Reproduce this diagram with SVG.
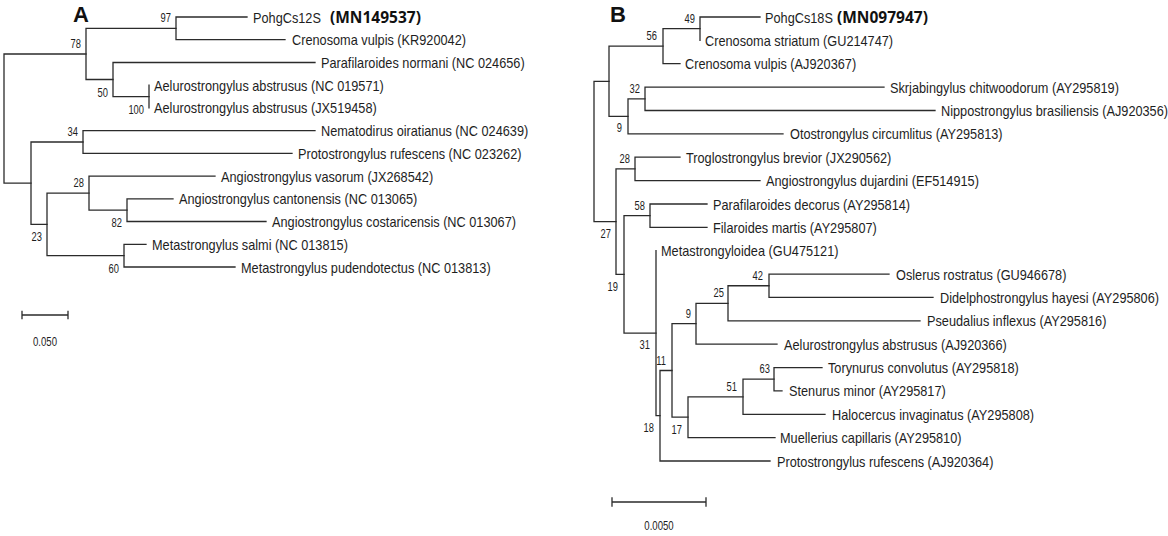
<svg xmlns="http://www.w3.org/2000/svg" width="1168" height="536" viewBox="0 0 1168 536">
<style>
.br{fill:none;stroke:#2b2b2b;stroke-width:1.3;stroke-linecap:square}
.t{font-family:"Liberation Sans",Arial,sans-serif;font-size:14.8px;fill:#1e1e1e}
.bd{font-family:"Open Sans","Liberation Sans",sans-serif;font-size:15.5px;font-weight:bold;fill:#111}
.b{font-family:"Liberation Sans",Arial,sans-serif;font-size:12px;fill:#1e1e1e;text-anchor:end}
.s{font-family:"Liberation Sans",Arial,sans-serif;font-size:12px;fill:#1e1e1e;text-anchor:middle}
.h{font-family:"Liberation Sans",Arial,sans-serif;font-size:22px;font-weight:bold;fill:#111}
</style>
<rect width="1168" height="536" fill="#fff"/>
<g id="connectors">
<!-- Tree A -->
<path class="br" d="M86,54 H4 V183.2 H31"/>
<path class="br" d="M176,28.4 H86 V79.5 H113"/>
<path class="br" d="M247,17 H176 V39.7 H285"/>
<path class="br" d="M315,62.5 H113 V96.6 H149"/>
<path class="br" d="M149,85.2 V107.9"/>
<path class="br" d="M83,142 H31 V224.4 H47"/>
<path class="br" d="M315,130.6 H83 V153.4 H292"/>
<path class="br" d="M89,193.1 H47 V255.7 H124"/>
<path class="br" d="M215,176.1 H89 V210.2 H127"/>
<path class="br" d="M173,198.8 H127 V221.5 H266"/>
<path class="br" d="M146,244.3 H124 V267 H235"/>
<!-- scale A -->
<path class="br" d="M22,315 H68 M22,311.5 V318.5 M68,311.5 V318.5"/>
<!-- Tree B -->
<path class="br" d="M609,81.3 H594 V221.7 H616"/>
<path class="br" d="M663,46.2 H609 V116.3 H628"/>
<path class="br" d="M700,28.7 H663 V63.7 H680"/>
<path class="br" d="M760,17 H700 V40.4"/>
<path class="br" d="M645,98.8 H628 V133.9 H783"/>
<path class="br" d="M884,87.1 H645 V110.5 H935"/>
<path class="br" d="M635,168.9 H616 V274.4 H624"/>
<path class="br" d="M680,157.2 H635 V180.6 H760"/>
<path class="br" d="M650,215.7 H624 V333.2 H656"/>
<path class="br" d="M707,204 H650 V227.3 H707"/>
<path class="br" d="M656,250.7 V415.7 H660"/>
<path class="br" d="M672,370.5 H660 V461 H770"/>
<path class="br" d="M696,323.7 H672 V417.2 H688"/>
<path class="br" d="M728,303.3 H696 V344.2 H777"/>
<path class="br" d="M769,285.75 H728 V320.8 H920"/>
<path class="br" d="M889,274.1 H769 V297.4 H933"/>
<path class="br" d="M743,396.8 H688 V437.7 H775"/>
<path class="br" d="M774,379.2 H743 V414.3 H825"/>
<path class="br" d="M822,367.6 H774 V390.9 H782"/>
<!-- scale B -->
<path class="br" d="M612,502 H706 M612,498 V506 M706,498 V506"/>
</g>
<g id="panelA">
<text class="h" x="73" y="22">A</text>
<g id="tipsA">
<text class="t" transform="matrix(0.86 0 0 1 253 22.5)">PohgCs12S</text>
<text class="bd" x="330" y="22.5">(MN149537)</text>
<text class="t" transform="matrix(0.86 0 0 1 292 45.2)">Crenosoma vulpis (KR920042)</text>
<text class="t" transform="matrix(0.86 0 0 1 321 68)">Parafilaroides normani (NC 024656)</text>
<text class="t" transform="matrix(0.86 0 0 1 154 90.7)">Aelurostrongylus abstrusus (NC 019571)</text>
<text class="t" transform="matrix(0.86 0 0 1 154 113.4)">Aelurostrongylus abstrusus (JX519458)</text>
<text class="t" transform="matrix(0.86 0 0 1 321 136.1)">Nematodirus oiratianus (NC 024639)</text>
<text class="t" transform="matrix(0.86 0 0 1 298 158.9)">Protostrongylus rufescens (NC 023262)</text>
<text class="t" transform="matrix(0.86 0 0 1 221 181.6)">Angiostrongylus vasorum (JX268542)</text>
<text class="t" transform="matrix(0.86 0 0 1 179 204.3)">Angiostrongylus cantonensis (NC 013065)</text>
<text class="t" transform="matrix(0.86 0 0 1 272 227)">Angiostrongylus costaricensis (NC 013067)</text>
<text class="t" transform="matrix(0.86 0 0 1 152 249.8)">Metastrongylus salmi (NC 013815)</text>
<text class="t" transform="matrix(0.86 0 0 1 241 272.5)">Metastrongylus pudendotectus (NC 013813)</text>
</g>
<g id="supportA">
<text class="b" transform="matrix(0.78 0 0 1 171 22.4)">97</text>
<text class="b" transform="matrix(0.78 0 0 1 81 48)">78</text>
<text class="b" transform="matrix(0.78 0 0 1 108 96.5)">50</text>
<text class="b" transform="matrix(0.78 0 0 1 144 113.6)">100</text>
<text class="b" transform="matrix(0.78 0 0 1 78 136)">34</text>
<text class="b" transform="matrix(0.78 0 0 1 84 187.1)">28</text>
<text class="b" transform="matrix(0.78 0 0 1 122 227.2)">82</text>
<text class="b" transform="matrix(0.78 0 0 1 42 241.4)">23</text>
<text class="b" transform="matrix(0.78 0 0 1 119 272.7)">60</text>
</g>
<text class="s" transform="matrix(0.8 0 0 1 45 346)">0.050</text>
</g>
<g id="panelB">
<text class="h" x="610" y="22">B</text>
<g id="tipsB">
<text class="t" transform="matrix(0.86 0 0 1 765 22.5)">PohgCs18S</text>
<text class="bd" x="837" y="22.5">(MN097947)</text>
<text class="t" transform="matrix(0.86 0 0 1 705 45.9)">Crenosoma striatum (GU214747)</text>
<text class="t" transform="matrix(0.86 0 0 1 685 69.2)">Crenosoma vulpis (AJ920367)</text>
<text class="t" transform="matrix(0.86 0 0 1 890 92.6)">Skrjabingylus chitwoodorum (AY295819)</text>
<text class="t" transform="matrix(0.86 0 0 1 941 116)">Nippostrongylus brasiliensis (AJ920356)</text>
<text class="t" transform="matrix(0.86 0 0 1 790 139.4)">Otostrongylus circumlitus (AY295813)</text>
<text class="t" transform="matrix(0.86 0 0 1 686 162.7)">Troglostrongylus brevior (JX290562)</text>
<text class="t" transform="matrix(0.86 0 0 1 766 186.1)">Angiostrongylus dujardini (EF514915)</text>
<text class="t" transform="matrix(0.86 0 0 1 713 209.5)">Parafilaroides decorus (AY295814)</text>
<text class="t" transform="matrix(0.86 0 0 1 713 232.8)">Filaroides martis (AY295807)</text>
<text class="t" transform="matrix(0.86 0 0 1 661 256.2)">Metastrongyloidea (GU475121)</text>
<text class="t" transform="matrix(0.86 0 0 1 896 279.6)">Oslerus rostratus (GU946678)</text>
<text class="t" transform="matrix(0.86 0 0 1 940 302.9)">Didelphostrongylus hayesi (AY295806)</text>
<text class="t" transform="matrix(0.86 0 0 1 927 326.3)">Pseudalius inflexus (AY295816)</text>
<text class="t" transform="matrix(0.86 0 0 1 784 349.7)">Aelurostrongylus abstrusus (AJ920366)</text>
<text class="t" transform="matrix(0.86 0 0 1 828 373.1)">Torynurus convolutus (AY295818)</text>
<text class="t" transform="matrix(0.86 0 0 1 789 396.4)">Stenurus minor (AY295817)</text>
<text class="t" transform="matrix(0.86 0 0 1 832 419.8)">Halocercus invaginatus (AY295808)</text>
<text class="t" transform="matrix(0.86 0 0 1 780 443.2)">Muellerius capillaris (AY295810)</text>
<text class="t" transform="matrix(0.86 0 0 1 777 466.5)">Protostrongylus rufescens (AJ920364)</text>
</g>
<g id="supportB">
<text class="b" transform="matrix(0.78 0 0 1 695 22.7)">49</text>
<text class="b" transform="matrix(0.78 0 0 1 657 40.2)">56</text>
<text class="b" transform="matrix(0.78 0 0 1 640 92.8)">32</text>
<text class="b" transform="matrix(0.78 0 0 1 622 132.3)">9</text>
<text class="b" transform="matrix(0.78 0 0 1 630 162.9)">28</text>
<text class="b" transform="matrix(0.78 0 0 1 645 209.7)">58</text>
<text class="b" transform="matrix(0.78 0 0 1 611 238.2)">27</text>
<text class="b" transform="matrix(0.78 0 0 1 618 290.9)">19</text>
<text class="b" transform="matrix(0.78 0 0 1 763 279.75)">42</text>
<text class="b" transform="matrix(0.78 0 0 1 724 297.3)">25</text>
<text class="b" transform="matrix(0.78 0 0 1 691 317.7)">9</text>
<text class="b" transform="matrix(0.78 0 0 1 650 349)">31</text>
<text class="b" transform="matrix(0.78 0 0 1 666 364.5)">11</text>
<text class="b" transform="matrix(0.78 0 0 1 770 373.2)">63</text>
<text class="b" transform="matrix(0.78 0 0 1 737 390.8)">51</text>
<text class="b" transform="matrix(0.78 0 0 1 682 433.7)">17</text>
<text class="b" transform="matrix(0.78 0 0 1 654 432.2)">18</text>
</g>
<text class="s" transform="matrix(0.8 0 0 1 659 530)">0.0050</text>
</g>
</svg>
